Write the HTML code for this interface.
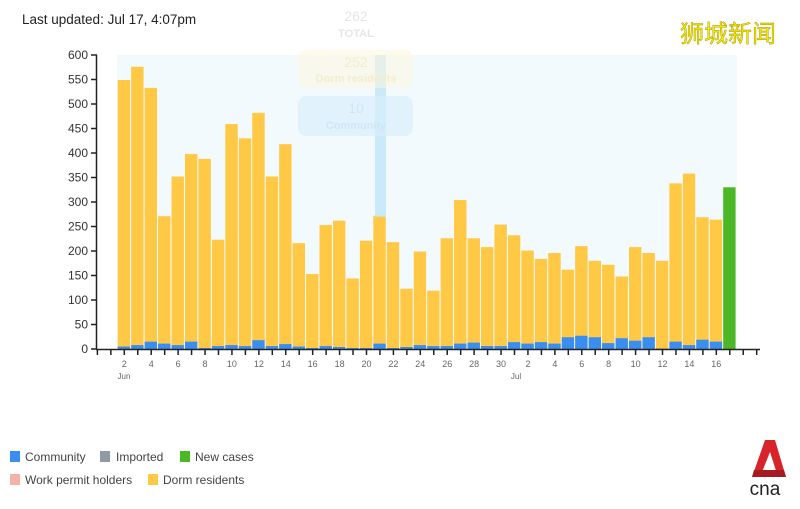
<!DOCTYPE html>
<html><head><meta charset="utf-8"><style>
html,body{margin:0;padding:0;background:#fff;width:800px;height:509px;overflow:hidden}
svg{display:block;font-family:"Liberation Sans",sans-serif}
</style></head><body>
<svg width="800" height="509" viewBox="0 0 800 509" xmlns="http://www.w3.org/2000/svg">
<text x="22" y="24" font-size="13.5" fill="#222">Last updated: Jul 17, 4:07pm</text>
<text x="680" y="42" font-size="24" fill="#f7ea00" stroke="#9a8a00" stroke-width="0.4" font-family="'Noto Sans CJK SC',sans-serif">狮城新闻</text>
<rect x="117" y="55" width="620" height="294" fill="#f3fafe"/>
<g id="bars"></g>
<rect x="375" y="55" width="11" height="162" fill="#bfe6f7" opacity="0.8"/>
<rect x="288" y="0" width="138" height="45" fill="#fff" opacity="0.9" rx="6"/>
<text x="356" y="21" font-size="14" fill="#e6e6e6" text-anchor="middle">262</text>
<text x="356" y="37" font-size="11" fill="#e6e6e6" text-anchor="middle" font-weight="bold">TOTAL</text>
<rect x="298" y="50" width="115" height="38" rx="8" fill="#fdf5da" opacity="0.5"/>
<text x="356" y="67" font-size="14" fill="#f3ecd0" text-anchor="middle">252</text>
<text x="356" y="82" font-size="11" fill="#f3ecd0" text-anchor="middle" font-weight="bold">Dorm residents</text>
<rect x="298" y="96" width="115" height="40" rx="8" fill="#d8eefb" opacity="0.7"/>
<text x="356" y="113" font-size="14" fill="#cfe6f5" text-anchor="middle">10</text>
<text x="356" y="129" font-size="11" fill="#cfe6f5" text-anchor="middle" font-weight="bold">Community</text>
<g id="axes" stroke="#222" stroke-width="1.5"></g>
<g id="labels" font-size="12" fill="#333" text-anchor="end"></g>
<g id="xl" font-size="9" fill="#666" text-anchor="middle"></g>
<text x="124" y="379" font-size="8" fill="#666" text-anchor="middle">Jun</text>
<text x="516" y="379" font-size="8" fill="#666" text-anchor="middle">Jul</text>
<g font-size="12" fill="#444">
<rect x="10" y="451" width="10" height="11" fill="#3a8ef0"/><text x="25" y="461">Community</text>
<rect x="100" y="451" width="10" height="11" fill="#8f9aa6"/><text x="116" y="461">Imported</text>
<rect x="180" y="451" width="10" height="11" fill="#4cb825"/><text x="195" y="461">New cases</text>
<rect x="10" y="474" width="10" height="11" fill="#f5b2a6"/><text x="25" y="484">Work permit holders</text>
<rect x="148" y="474" width="10" height="11" fill="#ffc845"/><text x="163" y="484">Dorm residents</text>
</g>
<polygon points="765,440 775,440 786,477 778,477 770,452 760,477 752,477" fill="#d7242b"/>
<polygon points="752,477 786,477 784,470 754,470" fill="#a51b20"/>
<text x="765" y="495" font-size="19" fill="#222" text-anchor="middle">cna</text>
</svg>
<script>
var tot=[549,576,533,271,352,398,388,223,459,430,482,352,418,216,153,253,262,144,221,272,218,123,199,119,226,304,226,208,254,232,201,184,196,162,210,180,172,148,208,196,180,338,358,269,264,330];
var com=[5,8,15,11,8,15,2,6,8,6,18,6,10,5,2,6,4,2,2,11,2,4,8,6,6,11,13,6,6,14,11,14,11,24,27,24,12,22,17,24,1,15,8,19,15,0];
var ns="http://www.w3.org/2000/svg",k=0.49,b0=349,p=13.455,x0=117.7;
function el(t,a,par){var e=document.createElementNS(ns,t);for(var i in a)e.setAttribute(i,a[i]);document.getElementById(par).appendChild(e);return e;}
for(var i=0;i<46;i++){var x=x0+i*p,w=12.4;
 if(i==45){el('rect',{x:x,y:b0-tot[i]*k,width:w,height:tot[i]*k,fill:'#4cb825'},'bars');continue;}
 el('rect',{x:x,y:b0-tot[i]*k,width:w,height:tot[i]*k,fill:'#ffc845'},'bars');
 if(com[i])el('rect',{x:x,y:b0-com[i]*k,width:w,height:com[i]*k,fill:'#3a8ef0'},'bars');}
el('line',{x1:96.5,y1:55,x2:96.5,y2:349.5},'axes');
el('line',{x1:96,y1:349.5,x2:760,y2:349.5},'axes');
for(var v=0;v<=600;v+=50){var y=b0-v*k;el('line',{x1:91,y1:y,x2:97,y2:y},'axes');var t=el('text',{x:88,y:y+4},'labels');t.textContent=v;}
for(var j=-2;j<=47;j++){var x=124.3+j*p;el('line',{x1:x,y1:349,x2:x,y2:355},'axes');}
var lab=[[0,'2'],[2,'4'],[4,'6'],[6,'8'],[8,'10'],[10,'12'],[12,'14'],[14,'16'],[16,'18'],[18,'20'],[20,'22'],[22,'24'],[24,'26'],[26,'28'],[28,'30'],[30,'2'],[32,'4'],[34,'6'],[36,'8'],[38,'10'],[40,'12'],[42,'14'],[44,'16']];
lab.forEach(function(a){var t=el('text',{x:124.3+a[0]*p,y:367},'xl');t.textContent=a[1];});
</script>
</body></html>
